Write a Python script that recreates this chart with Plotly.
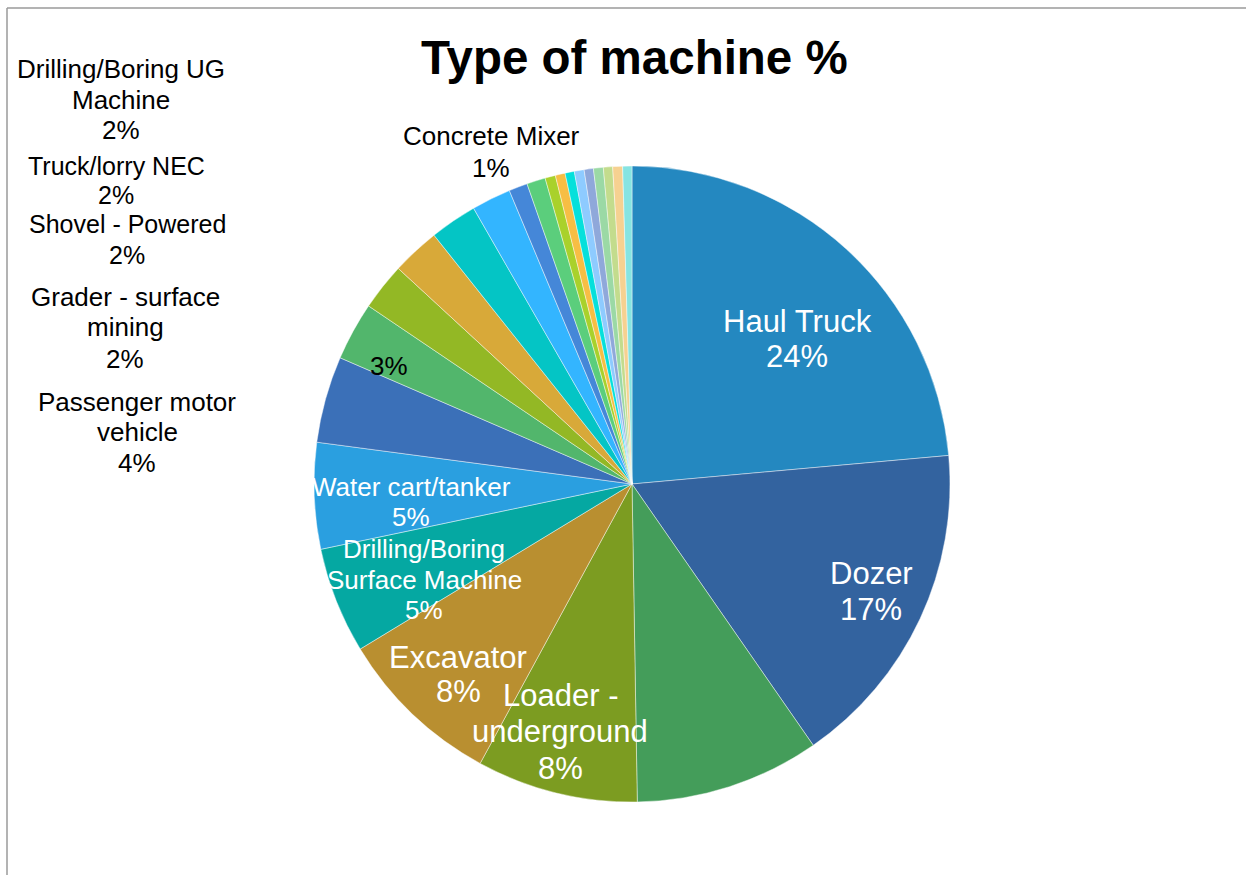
import plotly.graph_objects as go

W, H = 1246, 875

# ---- data (clockwise from 12 o'clock) ----
categories = [
    "Haul Truck", "Dozer", "Unlabelled slice A", "Loader - underground", "Excavator",
    "Drilling/Boring Surface Machine", "Water cart/tanker", "Passenger motor vehicle",
    "Unlabelled slice B", "Grader - surface mining", "Shovel - Powered", "Truck/lorry NEC",
    "Drilling/Boring UG Machine", "Concrete Mixer", "Unlabelled slice C",
    "Unlabelled slice D", "Unlabelled slice E", "Unlabelled slice F", "Unlabelled slice G",
    "Unlabelled slice H", "Unlabelled slice I", "Unlabelled slice J", "Unlabelled slice K",
    "Unlabelled slice L",
]
shares = [
    23.6, 16.8, 9.4, 8.2, 8.4,
    5.4, 5.4, 4.4,
    2.97, 2.4, 2.45, 2.4,
    2.0, 0.95, 0.95,
    0.53, 0.5, 0.47, 0.5,
    0.47, 0.5, 0.47, 0.5,
    0.47,
]
colors = [
    "#2488C0", "#33639F", "#449D5A", "#7C9C21", "#B98F30",
    "#05A8A2", "#2A9FE0", "#3B70B8",
    "#52B66C", "#93B825", "#D8A939", "#04C5C5",
    "#33B5FF", "#4587D8", "#5BCE7C",
    "#A9D12B", "#F7BE44", "#05E0DB", "#8ECBFF",
    "#8FA8DA", "#9BD9A5", "#C3DC8D", "#F6D191",
    "#86E4E2",
]

# ---- label styling: wrapped name lines, centre x, line y's (px from top), size, colour ----
label_style = {
    "Haul Truck": (["Haul Truck"], 797, [321, 357], 31, "white"),
    "Dozer": (["Dozer"], 871, [573, 609], 31, "white"),
    "Loader - underground": (["Loader -", "underground"], 560, [695, 731, 768], 31, "white"),
    "Excavator": (["Excavator"], 458, [657, 691], 31, "white"),
    "Drilling/Boring Surface Machine": (["Drilling/Boring", "Surface Machine"], 424, [549, 580, 610], 26, "white"),
    "Water cart/tanker": (["Water cart/tanker"], 411, [487, 517], 26, "white"),
    "Unlabelled slice B": ([], 389, [366], 26, "black"),
    "Passenger motor vehicle": (["Passenger motor", "vehicle"], 137, [402, 432, 463], 26, "black"),
    "Grader - surface mining": (["Grader - surface", "mining"], 125, [297, 327, 359], 26, "black"),
    "Shovel - Powered": (["Shovel - Powered"], 127, [224, 255], 25, "black"),
    "Truck/lorry NEC": (["Truck/lorry NEC"], 116, [166, 195], 25, "black"),
    "Drilling/Boring UG Machine": (["Drilling/Boring UG", "Machine"], 121, [69, 100, 130], 26, "black"),
    "Concrete Mixer": (["Concrete Mixer"], 491, [136, 168], 26, "black"),
}

FONT = "Liberation Sans, Arial, sans-serif"

# pie geometry in pixels
cx, cy, r = 632, 484, 318

fig = go.Figure(go.Pie(
    labels=categories,
    values=shares,
    sort=False,
    direction="clockwise",
    rotation=0,
    textinfo="none",
    hoverinfo="label+percent",
    marker=dict(colors=colors, line=dict(color="rgba(255,255,255,0.55)", width=0.8)),
    domain=dict(x=[(cx - r) / W, (cx + r) / W], y=[1 - (cy + r) / H, 1 - (cy - r) / H]),
    showlegend=False,
))

total = sum(shares)
annotations = []
for cat, val in zip(categories, shares):
    if cat not in label_style:
        continue
    lines, x, ys, size, col = label_style[cat]
    texts = lines + [f"{round(val / total * 100)}%"]
    for t, y in zip(texts, ys):
        annotations.append(dict(
            text=t, x=x / W, y=1 - y / H, xref="paper", yref="paper",
            xanchor="center", yanchor="middle", showarrow=False, borderpad=0,
            font=dict(family=FONT, size=size, color=col),
        ))

annotations.append(dict(
    text="<b>Type of machine %</b>", x=634 / W, y=1 - 57 / H, xref="paper", yref="paper",
    xanchor="center", yanchor="middle", showarrow=False,
    font=dict(family=FONT, size=47.5, color="black"),
))

shapes = [
    dict(type="line", xref="paper", yref="paper", x0=7 / W, x1=7 / W, y0=0, y1=1 - 8 / H,
         line=dict(color="#9A9A9A", width=1.5)),
    dict(type="line", xref="paper", yref="paper", x0=7 / W, x1=1, y0=1 - 8 / H, y1=1 - 8 / H,
         line=dict(color="#9A9A9A", width=1.5)),
]

fig.update_layout(
    width=W, height=H,
    margin=dict(l=0, r=0, t=0, b=0),
    paper_bgcolor="white", plot_bgcolor="white",
    annotations=annotations, shapes=shapes,
    font=dict(family=FONT),
)

fig.write_html(
    "out.html",
    config={"displayModeBar": False},
    post_script="document.body.style.margin='0';document.body.style.overflow='hidden';",
)
